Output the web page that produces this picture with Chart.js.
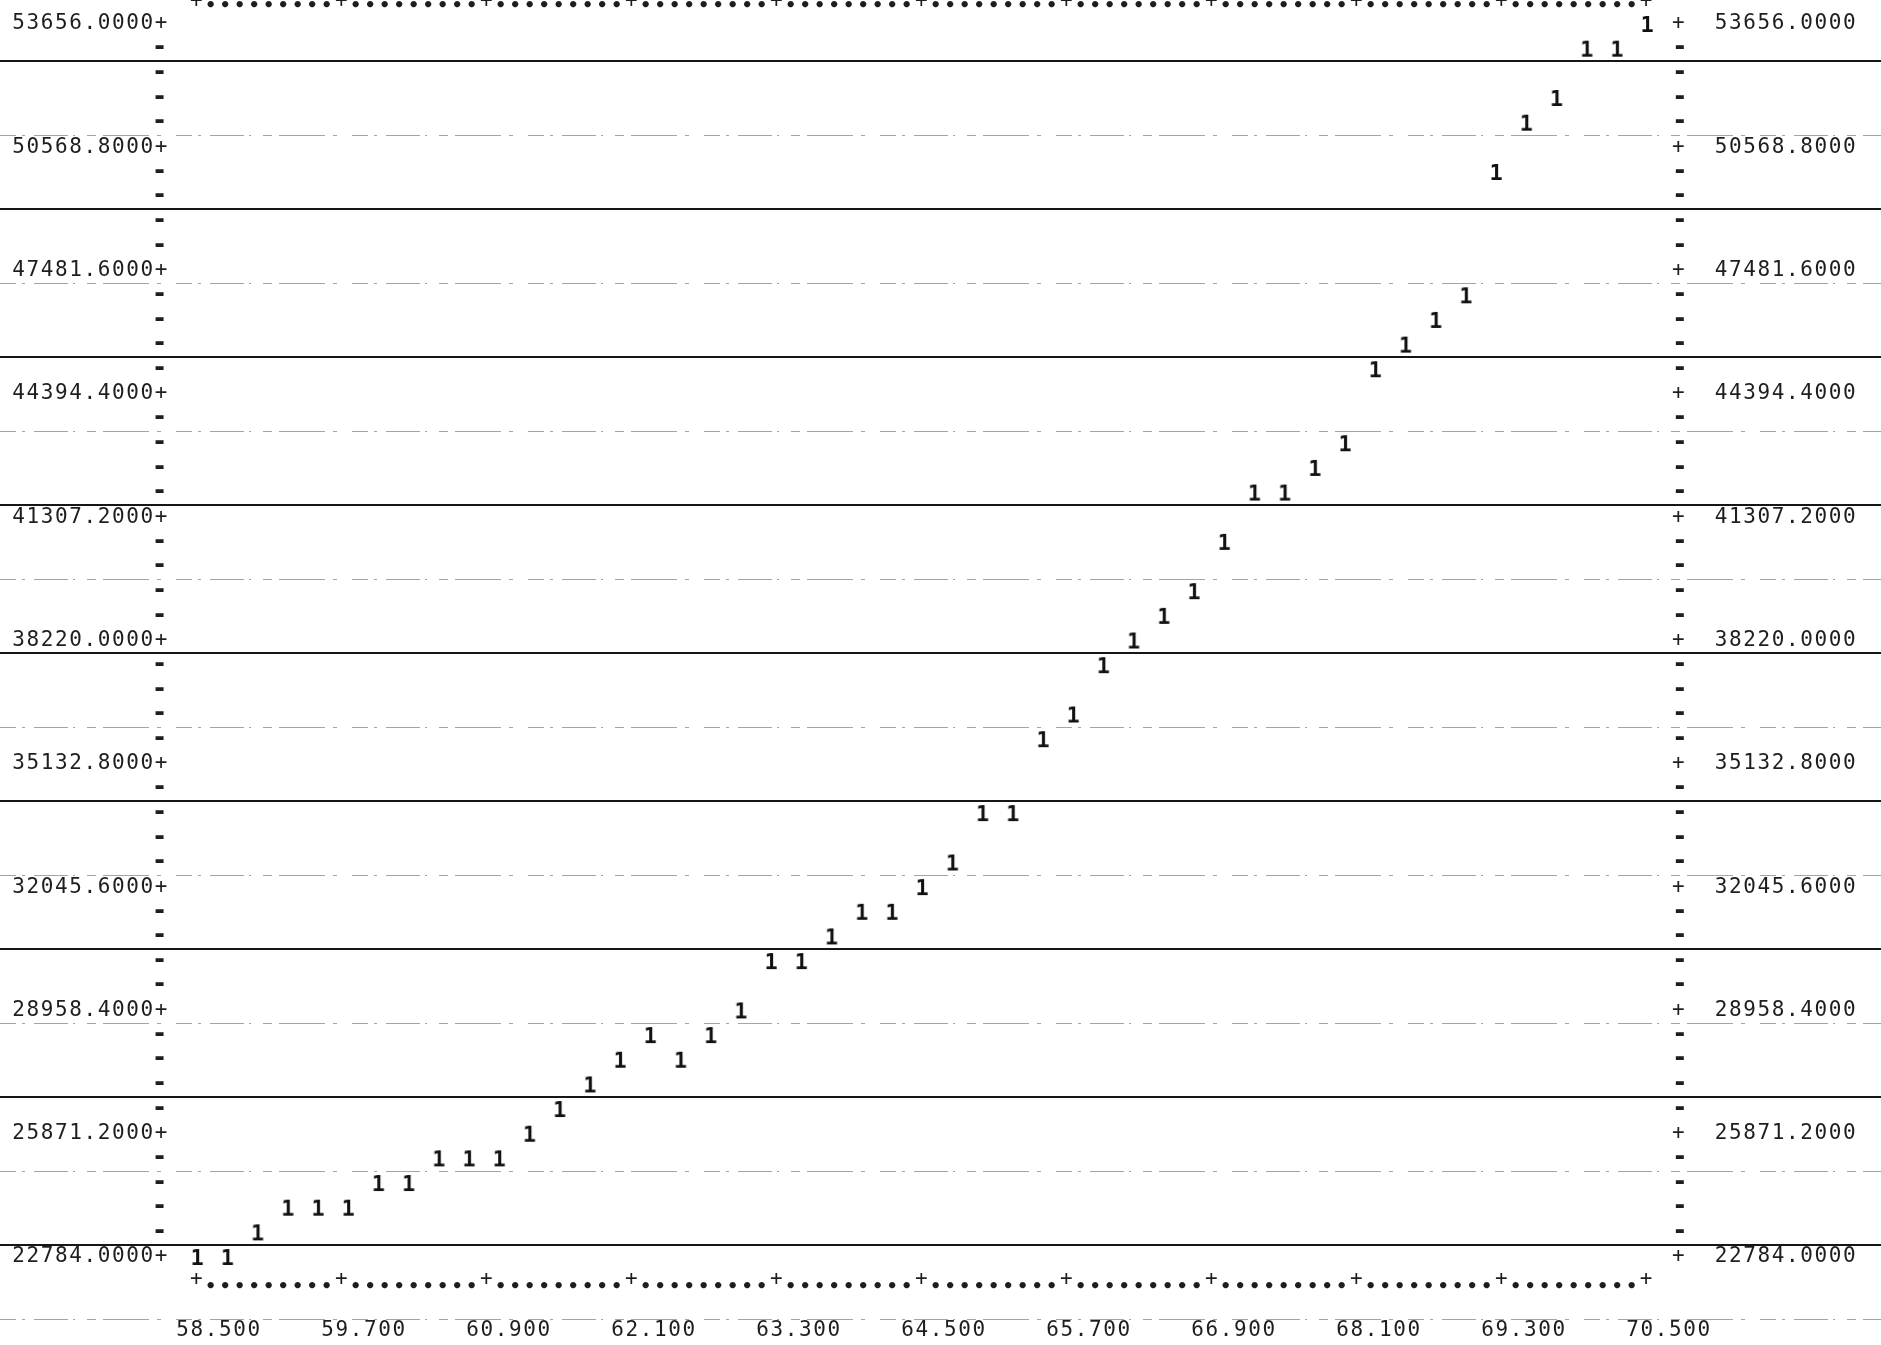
<!DOCTYPE html>
<html>
<head>
<meta charset="utf-8">
<script src="https://cdn.jsdelivr.net/npm/chart.js@4/dist/chart.umd.min.js"></script>
<style>
  html, body { margin: 0; padding: 0; background: #fff; }
  canvas { display: block; }
</style>
</head>
<body>
<canvas id="plot" width="1881" height="1345"></canvas>
<script>
// Quarterly time index (year.fraction) of each printed observation
const periods = [
  58.50, 58.75, 59.00, 59.25, 59.50, 59.75, 60.00, 60.25, 60.50, 60.75,
  61.00, 61.25, 61.50, 61.75, 62.00, 62.25, 62.50, 62.75, 63.00, 63.25,
  63.50, 63.75, 64.00, 64.25, 64.50, 64.75, 65.00, 65.25, 65.50, 65.75,
  66.00, 66.25, 66.50, 66.75, 67.00, 67.25, 67.50, 67.75, 68.00, 68.25,
  68.50, 68.75, 69.00, 69.25, 69.50, 69.75, 70.00, 70.25, 70.50
];

// Series 1 values, one per period
const series1 = [
  22784, 22784, 23401, 24019, 24019, 24019, 24636, 24636, 25254, 25254,
  25254, 25871, 26489, 27106, 27724, 28341, 27724, 28341, 28958, 30193,
  30193, 30811, 31428, 31428, 32046, 32663, 33898, 33898, 35750, 36368,
  37603, 38220, 38837, 39455, 40690, 41925, 41925, 42542, 43160, 45012,
  45629, 46247, 46864, 49951, 51186, 51804, 53039, 53039, 53656
];

// Labelled ticks of the horizontal axis
const xTickLabels = ['58.500', '59.700', '60.900', '62.100', '63.300', '64.500',
                     '65.700', '66.900', '68.100', '69.300', '70.500'];

// Labelled ticks of the vertical axes
const yTickLabels = ['22784.0000', '25871.2000', '28958.4000', '32045.6000',
                     '35132.8000', '38220.0000', '41307.2000', '44394.4000',
                     '47481.6000', '50568.8000', '53656.0000'];

// Printer grid: columns between x labels, lines between y labels
const colsPerLabel = 10;
const rowsPerLabel = 5;

// Axis ranges (one column / row of margin around the printed area)
const xMin = 58.2931, xMax = 70.6821;
const yMin = 22584, yMax = 53906;

const xTickValues = xTickLabels.map(Number);
const yTickValues = yTickLabels.map(Number);

// Split each labelled interval into printer columns / lines
function subdivide(marks, parts) {
  const out = [];
  for (let i = 0; i < marks.length - 1; i++) {
    for (let j = 0; j < parts; j++) {
      out.push({ value: marks[i] + (marks[i + 1] - marks[i]) * j / parts, main: j === 0, idx: i });
    }
  }
  out.push({ value: marks[marks.length - 1], main: true, idx: marks.length - 1 });
  return out;
}
const colTicks = () => subdivide(xTickValues, colsPerLabel);
const rowTicks = () => subdivide(yTickValues, rowsPerLabel);
const rowStep = (yTickValues[1] - yTickValues[0]) / rowsPerLabel;

const mono = "'DejaVu Sans Mono', monospace";
const ink = '#1e1e1e';
const plainFont = { family: mono, size: 21, weight: 'normal', lineHeight: 1.2 };
const dashFont  = { family: mono, size: 26, weight: 'bold', lineHeight: 1.2 };
// round border dots sit lower than the '+' marks
const dotFontBottom = { family: mono, size: 18, weight: 'bold', lineHeight: 2.3 };
const dotFontTop    = { family: mono, size: 18, weight: 'bold', lineHeight: 0.8 };
const isMain = ctx => !!(ctx.tick && ctx.tick.main);

// The plotting character "1", rendered once and used as the point style
function printedGlyph(ch) {
  const c = document.createElement('canvas');
  c.width = 16; c.height = 26;
  const g = c.getContext('2d');
  g.font = "bold 22px 'DejaVu Sans Mono', monospace";
  g.fillStyle = '#111';
  g.textAlign = 'center';
  g.textBaseline = 'alphabetic';
  g.fillText(ch, c.width / 2, c.height / 2 + 8);
  return c;
}
const glyphOne = printedGlyph('1');

function fixedBox(prop, size) {
  return axis => {
    axis[prop] = size;
    axis.paddingTop = 0; axis.paddingBottom = 0;
    axis.paddingLeft = 0; axis.paddingRight = 0;
  };
}

const quiet = { grid: { display: false, drawTicks: false }, border: { display: false } };

// Ruled lines of the continuous-form paper: heavy every 6 lines, faint in between
const paperRules = {
  id: 'paperRules',
  beforeDraw(chart) {
    const { ctx, width } = chart;
    const y = chart.scales.y;
    const base = yTickValues[0];
    ctx.save();
    ctx.strokeStyle = '#161616';
    ctx.lineWidth = 2;
    for (let r = 0.5; r < 60; r += 6) {
      const py = Math.round(y.getPixelForValue(base + r * rowStep));
      if (py < 0 || py > chart.height) continue;
      ctx.beginPath(); ctx.moveTo(0, py); ctx.lineTo(width, py); ctx.stroke();
    }
    ctx.strokeStyle = 'rgba(40,40,40,0.42)';
    ctx.lineWidth = 1;
    ctx.setLineDash([16, 6, 3, 9, 34, 5, 2, 12, 9, 7, 46, 8, 4, 15]);
    for (let r = -2.5; r < 60; r += 6) {
      const py = Math.round(y.getPixelForValue(base + r * rowStep)) + 0.5;
      if (py < 0 || py > chart.height) continue;
      ctx.beginPath(); ctx.moveTo(0, py); ctx.lineTo(width, py); ctx.stroke();
    }
    ctx.restore();
    // printer pitch is wider than the font's own advance
    ctx.letterSpacing = '1.6px';
  }
};

const borderTicks = dotFont => ({
  autoSkip: false, maxRotation: 0, minRotation: 0, color: ink,
  font: ctx => isMain(ctx) ? plainFont : dotFont,
  callback: (v, i, t) => t[i].main ? '+' : '\u2022'
});

new Chart(document.getElementById('plot'), {
  type: 'scatter',
  data: {
    datasets: [{
      label: '1',
      data: periods.map((p, i) => ({ x: p, y: series1[i] })),
      pointStyle: glyphOne,
      pointRadius: 8,
      showLine: false,
      xAxisID: 'x',
      yAxisID: 'y'
    }]
  },
  options: {
    responsive: false,
    animation: false,
    devicePixelRatio: 1,
    events: [],
    layout: { padding: 0 },
    plugins: { legend: { display: false }, tooltip: { enabled: false } },
    scales: {
      x: {
        type: 'linear', position: 'bottom', weight: 0, min: xMin, max: xMax, ...quiet,
        afterBuildTicks: a => { a.ticks = colTicks(); },
        afterFit: fixedBox('height', 40),
        ticks: { ...borderTicks(dotFontBottom), padding: 2 }
      },
      xNum: {
        type: 'linear', position: 'bottom', weight: 1, min: xMin, max: xMax, ...quiet,
        afterBuildTicks: a => { a.ticks = xTickValues.map((v, i) => ({ value: v, idx: i })); },
        afterFit: fixedBox('height', 40),
        ticks: {
          autoSkip: false, maxRotation: 0, minRotation: 0, padding: 13, labelOffset: 22,
          color: ink, font: plainFont,
          callback: (v, i) => xTickLabels[i]
        }
      },
      xTop: {
        type: 'linear', position: 'top', min: xMin, max: xMax, ...quiet,
        afterBuildTicks: a => { a.ticks = colTicks(); },
        afterFit: fixedBox('height', 14),
        ticks: { ...borderTicks(dotFontTop), padding: 0 }
      },
      y: {
        type: 'linear', position: 'left', min: yMin, max: yMax, ...quiet,
        afterBuildTicks: a => { a.ticks = rowTicks(); },
        afterFit: fixedBox('width', 172),
        ticks: {
          autoSkip: false, padding: 3, color: ink,
          font: ctx => isMain(ctx) ? plainFont : dashFont,
          callback: (v, i, t) => t[i].main ? yTickLabels[t[i].idx] + '+' : '-'
        }
      },
      yRight: {
        type: 'linear', position: 'right', min: yMin, max: yMax, ...quiet,
        afterBuildTicks: a => { a.ticks = rowTicks(); },
        afterFit: fixedBox('width', 212),
        ticks: {
          autoSkip: false, padding: 3, color: ink,
          font: ctx => isMain(ctx) ? plainFont : dashFont,
          callback: (v, i, t) => t[i].main ? '+  ' + yTickLabels[t[i].idx] : '-'
        }
      }
    }
  },
  plugins: [paperRules]
});
</script>
</body>
</html>
